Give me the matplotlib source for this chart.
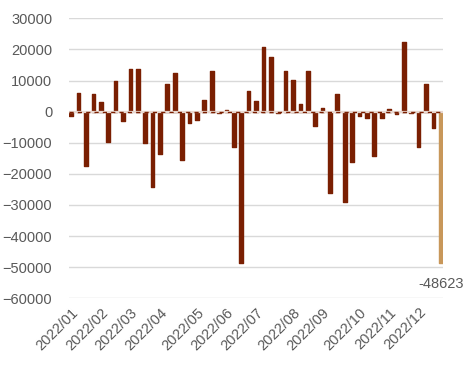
import matplotlib.pyplot as plt

# weekly values, 2022
values = [-1500, 6000, -17500, 5600, 3100, -9800, 9700, -3000, 13600, 13600,
          -10000, -24300, -13700, 8800, 12500, -15500, -3600, -2800, 3700, 12900,
          -600, 600, -11300, -48500, 6700, 3400, 20700, 17500, -600, 13000,
          10300, 2500, 13000, -4500, 1300, -26000, 5600, -28900, -16200, -1300,
          -2200, -14300, -2200, 800, -800, 22300, -600, -11400, 8800, -5200,
          -48623]

month_labels = ['2022/01', '2022/02', '2022/03', '2022/04', '2022/05', '2022/06',
                '2022/07', '2022/08', '2022/09', '2022/10', '2022/11', '2022/12']
month_pos = [0, 4, 8, 12, 17, 21, 25, 30, 34, 39, 43, 47]

dark = '#7A1F02'
tan = '#C8975A'
grey = '#595959'

plt.rcParams['font.family'] = ['Liberation Sans', 'DejaVu Sans']

fig = plt.figure(figsize=(4.74, 3.70), dpi=100)
ax = fig.add_axes([69/474, 1 - 298.3/370, (443 - 69)/474, (298.3 - 18.3)/370])

x = list(range(len(values)))
colors = [dark] * (len(values) - 1) + [tan]
ax.bar(x, values, width=0.5, color=colors, edgecolor=colors, linewidth=1,
       joinstyle='round', capstyle='round', zorder=3)

# zero line: grey base with dark dashes
ax.axhline(0, color='#E8D8D0', linewidth=1.6, zorder=4)
ax.axhline(0, color=dark, linestyle=(0, (3, 3)), linewidth=1.0, zorder=5)

# label on last bar
ax.annotate(str(values[-1]), (x[-1], values[-1]), xytext=(0, -10),
            textcoords='offset points', ha='center', va='top',
            fontsize=10.5, color=grey)

ax.set_ylim(-60000, 30000)
ax.set_xlim(-0.3, len(values) - 0.7)
ax.set_yticks(range(-60000, 30001, 10000))
ax.yaxis.grid(True, color='#D9D9D9', linewidth=1)
ax.set_axisbelow(True)

ax.set_xticks(month_pos)
ax.set_xticklabels(month_labels, rotation=45, ha='right', rotation_mode='anchor')
ax.tick_params(axis='both', length=0, labelsize=10.5, colors=grey)
ax.tick_params(axis='y', pad=12)
ax.tick_params(axis='x', pad=5)

for s in ax.spines.values():
    s.set_visible(False)

fig.savefig('out.png', dpi=100)
